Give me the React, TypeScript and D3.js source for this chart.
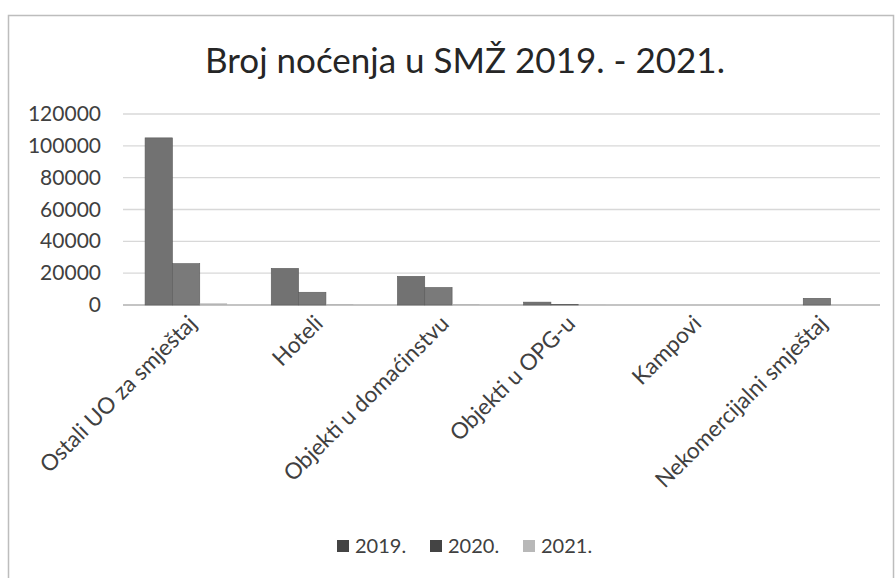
import React from "react";
import * as d3 from "d3";

const categories = [
  "Ostali UO za smještaj",
  "Hoteli",
  "Objekti u domaćinstvu",
  "Objekti u OPG-u",
  "Kampovi",
  "Nekomercijalni smještaj",
];
const seriesNames = ["2019.", "2020.", "2021."];
const values2019 = [105000, 23000, 18000, 1800, 0, 0];
const values2020 = [26000, 8000, 11000, 200, 0, 4200];
const values2021 = [1000, 500, 500, 100, 0, 0];
const yTicks = [0, 20000, 40000, 60000, 80000, 100000, 120000];
const colors = ["#727272", "#7a7a7a", "#b4b4b4"];

export default function App() {
  const W = 896, H = 578;
  const left = 123, right = 880, top = 114, bottom = 305;
  const x = d3.scaleBand<string>().domain(categories).range([left, right]).paddingInner(0.35).paddingOuter(0.175);
  const xs = d3.scaleBand<string>().domain(seriesNames).range([0, x.bandwidth()]);
  const y = d3.scaleLinear().domain([0, 120000]).range([bottom, top]);
  const all = [values2019, values2020, values2021];
  const font = "Lato, 'Open Sans', sans-serif";
  return (
    <svg width={W} height={H} style={{ position: "absolute", left: 0, top: 0, background: "#fff" }}>
      <rect x={8.5} y={15.5} width={885} height={570} fill="#fff" stroke="#bdbdbd" strokeWidth={1.5} />
      <text x={465} y={73} textAnchor="middle" fontFamily={font} fontSize={35} fill="#262626">
        Broj noćenja u SMŽ 2019. - 2021.
      </text>
      {yTicks.map((t) => (
        <g key={t}>
          <line x1={left} x2={right} y1={y(t)} y2={y(t)} stroke={t === 0 ? "#b0b0b0" : "#d8d8d8"} strokeWidth={1.3} />
          <text x={101} y={y(t) + 7} textAnchor="end" fontFamily={font} fontSize={21} fill="#404040">
            {t}
          </text>
        </g>
      ))}
      {categories.map((c, i) => (
        <g key={c}>
          {all.map((vals, s) => (
            <rect
              key={s}
              x={(x(c) as number) + (xs(seriesNames[s]) as number)}
              y={y(vals[i])}
              width={xs.bandwidth()}
              height={Math.max(0, bottom - y(vals[i]))}
              fill={colors[s]}
              stroke={s < 2 ? "#5a5a5a" : "none"}
              strokeWidth={0.6}
            />
          ))}
          <text
            transform={`translate(${(x(c) as number) + x.bandwidth() / 2 + 12},${bottom + 20}) rotate(-45)`}
            textAnchor="end"
            fontFamily={font}
            fontSize={22.5}
            fill="#404040"
          >
            {c}
          </text>
        </g>
      ))}
      {seriesNames.map((s, i) => (
        <g key={s} transform={`translate(${337 + i * 93},540)`}>
          <rect x={0} y={0} width={12} height={12} fill={i < 2 ? "#444" : "#b8b8b8"} />
          <text x={18} y={13} fontFamily={font} fontSize={20} fill="#404040">
            {s}
          </text>
        </g>
      ))}
    </svg>
  );
}
